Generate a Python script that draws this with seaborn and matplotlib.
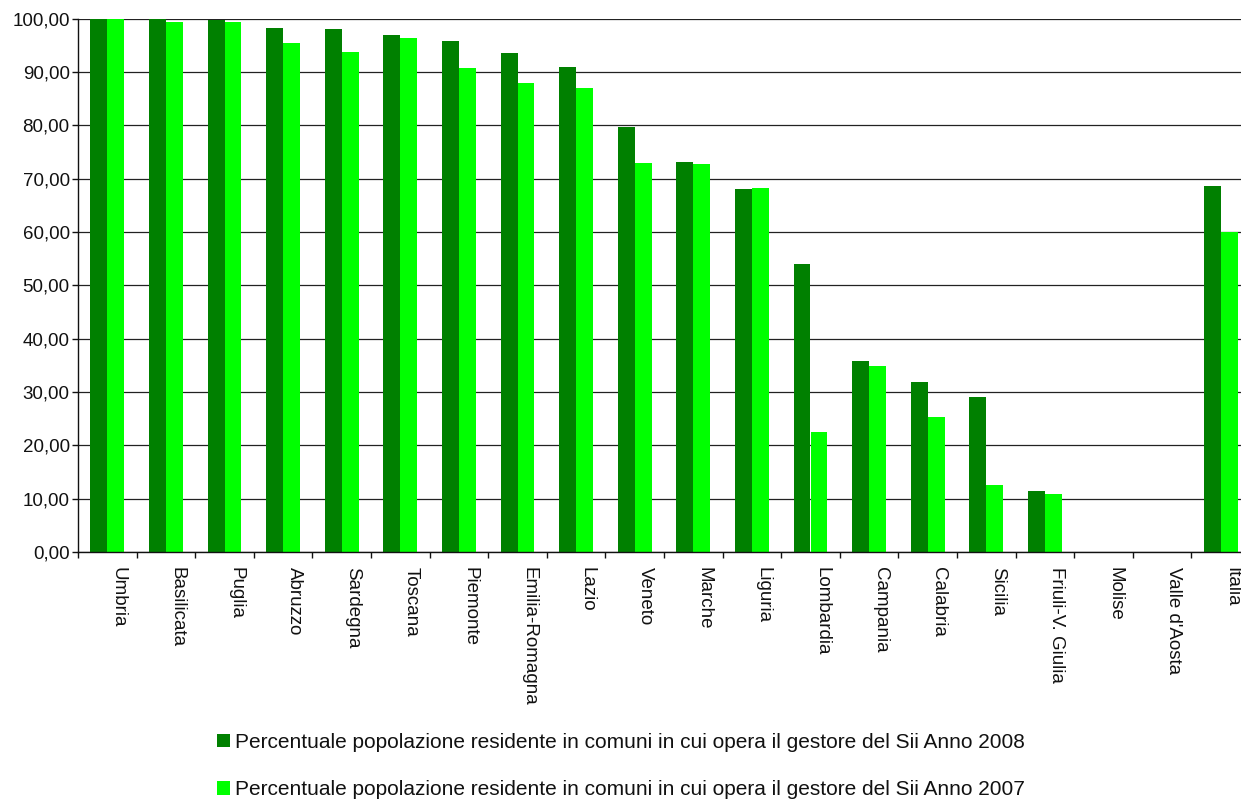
import matplotlib
matplotlib.use("Agg")
import matplotlib.pyplot as plt
import pandas as pd
import seaborn as sns
from matplotlib.patches import Patch
from matplotlib.ticker import FuncFormatter, MultipleLocator, FixedLocator

regioni = ["Umbria", "Basilicata", "Puglia", "Abruzzo", "Sardegna", "Toscana",
           "Piemonte", "Emilia-Romagna", "Lazio", "Veneto", "Marche", "Liguria",
           "Lombardia", "Campania", "Calabria", "Sicilia", "Friuli-V. Giulia",
           "Molise", "Valle d'Aosta", "Italia"]
anno_2008 = [100.0, 100.0, 99.7, 98.3, 98.1, 97.0, 95.7, 93.5, 91.0, 79.6,
             73.1, 68.0, 53.9, 35.8, 31.9, 29.0, 11.4, 0.0, 0.0, 68.6]
anno_2007 = [99.9, 99.4, 99.3, 95.5, 93.8, 96.4, 90.8, 88.0, 86.9, 72.9,
             72.7, 68.2, 22.5, 34.9, 25.3, 12.6, 10.9, 0.0, 0.0, 60.0]
serie = ["Percentuale popolazione residente in comuni in cui opera il gestore del Sii Anno 2008",
         "Percentuale popolazione residente in comuni in cui opera il gestore del Sii Anno 2007"]
colori = ["#008000", "#00FF00"]

df = pd.DataFrame({
    "regione": regioni * 2,
    "serie": [serie[0]] * len(regioni) + [serie[1]] * len(regioni),
    "valore": anno_2008 + anno_2007,
})

sns.set_theme(style="white")
plt.rcParams["font.family"] = ["Liberation Sans", "DejaVu Sans"]

fig = plt.figure(figsize=(12.41, 8.0), dpi=100)
ax = fig.add_axes([78 / 1241, 1 - 552 / 800, (1250 - 78) / 1241, (552 - 18.5) / 800])

sns.barplot(data=df, x="regione", y="valore", hue="serie", hue_order=serie,
            order=regioni, palette=colori, width=0.58, gap=0, saturation=1,
            linewidth=0, ax=ax, legend=False)

n = len(regioni)
ax.set_xlim(-0.5, n - 0.5)
ax.set_ylim(0, 100)
ax.set_xlabel("")
ax.set_ylabel("")

# horizontal grid lines
ax.yaxis.set_major_locator(MultipleLocator(10))
ax.yaxis.set_major_formatter(FuncFormatter(lambda v, p: f"{v:.2f}".replace(".", ",")))
ax.grid(axis="y", color="#222222", linewidth=0.9)
ax.grid(axis="x", visible=False)
ax.set_axisbelow(True)

# category labels slightly right of each group, tick marks at group boundaries
ax.xaxis.set_major_locator(FixedLocator([i + 0.19 for i in range(n)]))
ax.set_xticklabels(regioni, rotation=-90, ha="center", va="top")
ax.xaxis.set_minor_locator(FixedLocator([i - 0.5 for i in range(n + 1)]))
ax.tick_params(axis="x", which="major", length=0, pad=11, labelsize=13.5, colors="#111111")
ax.tick_params(axis="x", which="minor", length=4.5, width=1, color="#111111", bottom=True)
ax.tick_params(axis="y", which="major", length=4, width=1, color="#111111", pad=2,
               labelsize=13.5, labelcolor="#111111", left=True)

for s in ["top", "right"]:
    ax.spines[s].set_visible(False)
for s in ["left", "bottom"]:
    ax.spines[s].set_color("#111111")
    ax.spines[s].set_linewidth(1)

handles = [Patch(facecolor=c, edgecolor="none") for c in colori]
fig.legend(handles, serie, loc="center left", bbox_to_anchor=(217 / 1241, 1 - 766 / 800),
           frameon=False, fontsize=15, handlelength=0.61, handleheight=0.61,
           handletextpad=0.27, labelspacing=1.37, borderpad=0, borderaxespad=0,
           labelcolor="#111111")

fig.savefig("out.png", dpi=100)
